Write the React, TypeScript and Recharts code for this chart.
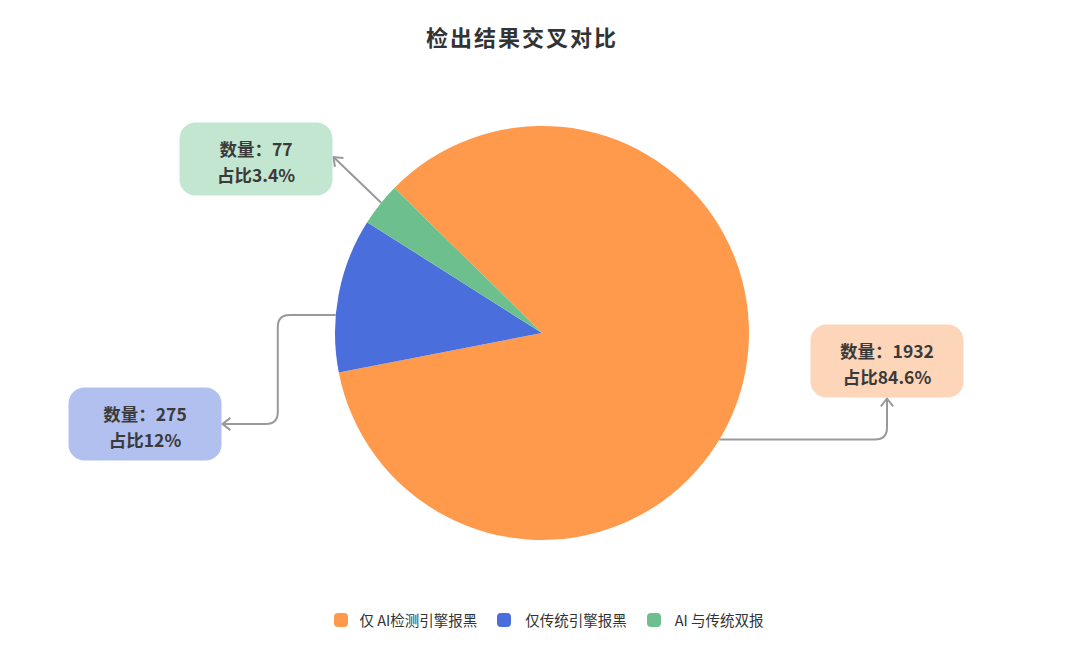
import { PieChart, Pie, Cell, Legend } from "recharts";

const CATEGORIES = ["仅 AI检测引擎报黑", "仅传统引擎报黑", "AI 与传统双报"];
const COUNTS = [1932, 275, 77];
const COLORS = ["#FF9A4C", "#4A6FDC", "#6DC08E"];
const LABEL_BG = ["#FDD5B8", "#B2C0F0", "#C3E6D1"];

// where each callout sits, relative to the pie centre
const LABEL_LAYOUT = [
  { anchorAngle: -31, dx: 345, dy: 28, route: "up" },
  { anchorAngle: 175, dx: -397, dy: 91, route: "down" },
  { anchorAngle: 141, dx: -286, dy: -174, route: "straight" },
];

const BOX_W = 153;
const BOX_H = 73;
const FONT = '"Noto Sans CJK SC", "Noto Sans", sans-serif';

const data = CATEGORIES.map((name, i) => ({ name, value: COUNTS[i] }));

function arrowHead(tx: number, ty: number, ux: number, uy: number) {
  const size = 10;
  const a = (38 * Math.PI) / 180;
  const pts = [a, -a].map((t) => {
    const rx = ux * Math.cos(t) - uy * Math.sin(t);
    const ry = ux * Math.sin(t) + uy * Math.cos(t);
    return [tx - rx * size, ty - ry * size];
  });
  return `M${pts[0][0]},${pts[0][1]} L${tx},${ty} L${pts[1][0]},${pts[1][1]}`;
}

const renderLabel = (props: any) => {
  const { cx, cy, outerRadius, index, value, percent } = props;
  const L = LABEL_LAYOUT[index];
  const rad = (L.anchorAngle * Math.PI) / 180;
  const ax = cx + outerRadius * Math.cos(rad);
  const ay = cy - outerRadius * Math.sin(rad);
  const bx = cx + L.dx;
  const by = cy + L.dy;
  const r = 12;

  let line = "";
  let arrow = "";
  if (L.route === "up") {
    const tipY = by + BOX_H / 2 + 1;
    line = `M${ax},${ay} H${bx - r} Q${bx},${ay} ${bx},${ay - r} V${tipY}`;
    arrow = arrowHead(bx, tipY, 0, -1);
  } else if (L.route === "down") {
    const bendX = ax - 58;
    const tipX = bx + BOX_W / 2 + 1;
    line = `M${ax},${ay} H${bendX + r} Q${bendX},${ay} ${bendX},${ay + r} V${by - r} Q${bendX},${by} ${bendX - r},${by} H${tipX}`;
    arrow = arrowHead(tipX, by, -1, 0);
  } else {
    const tipX = bx + BOX_W / 2 + 1;
    const tipY = by - 2;
    const len = Math.hypot(tipX - ax, tipY - ay);
    line = `M${ax},${ay} L${tipX},${tipY}`;
    arrow = arrowHead(tipX, tipY, (tipX - ax) / len, (tipY - ay) / len);
  }

  const pct = +(percent * 100).toFixed(1);

  return (
    <g>
      <path d={line} fill="none" stroke="#999" strokeWidth={2} />
      <path d={arrow} fill="none" stroke="#999" strokeWidth={2} />
      <rect
        x={bx - BOX_W / 2}
        y={by - BOX_H / 2}
        width={BOX_W}
        height={BOX_H}
        rx={16}
        fill={LABEL_BG[index]}
      />
      <text
        x={bx}
        y={by - 11}
        textAnchor="middle"
        dominantBaseline="central"
        fontSize={17.5}
        fontWeight={600}
        fill="#3a3a3a"
        fontFamily={FONT}
      >
        {`数量：${value}`}
      </text>
      <text
        x={bx}
        y={by + 15}
        textAnchor="middle"
        dominantBaseline="central"
        fontSize={17.5}
        fontWeight={600}
        fill="#3a3a3a"
        fontFamily={FONT}
      >
        {`占比${pct}%`}
      </text>
    </g>
  );
};

const renderLegend = () => (
  <div
    style={{
      display: "flex",
      justifyContent: "center",
      alignItems: "center",
      fontFamily: FONT,
      fontSize: 14.5,
      color: "#333",
      paddingLeft: 38,
    }}
  >
    {CATEGORIES.map((name, i) => (
      <div key={name} style={{ display: "flex", alignItems: "center", marginRight: 20 }}>
        <span
          style={{
            width: 14,
            height: 14,
            flexShrink: 0,
            borderRadius: 4,
            background: COLORS[i],
            marginRight: i === 0 ? 11 : 14,
            display: "inline-block",
          }}
        />
        <span>{name}</span>
      </div>
    ))}
  </div>
);

export default function App() {
  return (
    <div style={{ position: "relative", width: 1080, height: 655, background: "#fff" }}>
      <style>{`body{margin:0;background:#fff}`}</style>
      <div
        style={{
          position: "absolute",
          top: 20,
          left: 0,
          width: 1044,
          textAlign: "center",
          fontFamily: FONT,
          fontSize: 22,
          fontWeight: 700,
          letterSpacing: 2,
          color: "#333",
          zIndex: 1,
        }}
      >
        检出结果交叉对比
      </div>
      <PieChart width={1080} height={655} margin={{ top: 0, right: 0, bottom: 0, left: 0 }}>
        <Pie
          data={data}
          dataKey="value"
          nameKey="name"
          cx={542}
          cy={333}
          outerRadius={207}
          startAngle={135.5}
          endAngle={-224.5}
          stroke="none"
          label={renderLabel}
          labelLine={false}
          isAnimationActive={false}
        >
          {data.map((d, i) => (
            <Cell key={d.name} fill={COLORS[i]} />
          ))}
        </Pie>
        <Legend
          content={renderLegend}
          wrapperStyle={{ top: 609, left: 0, width: 1080, bottom: "auto" }}
        />
      </PieChart>
    </div>
  );
}
